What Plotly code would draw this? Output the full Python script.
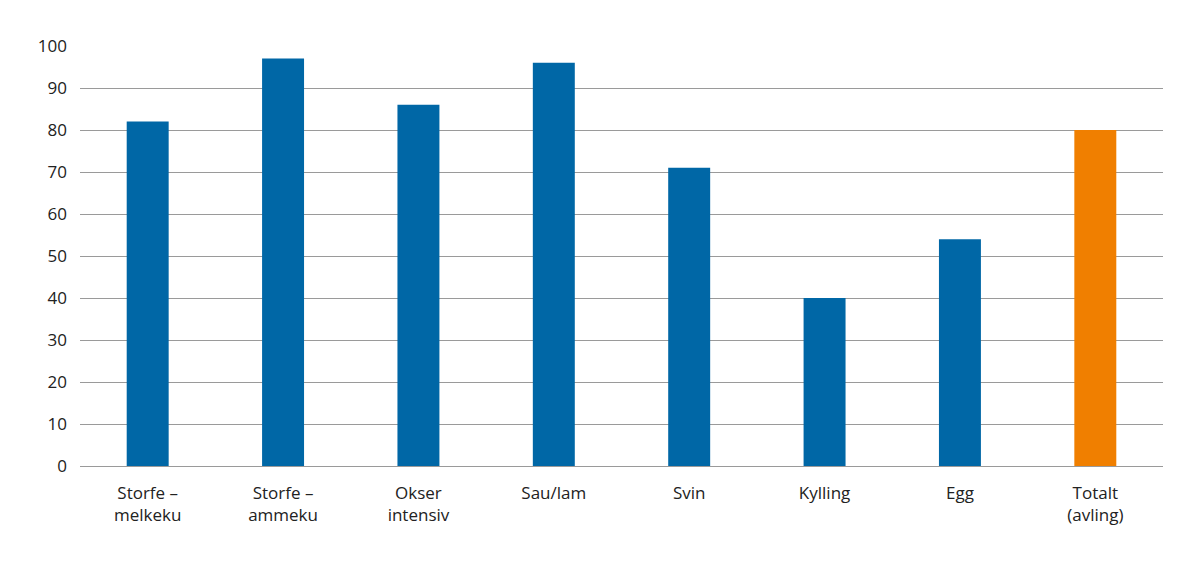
import plotly.graph_objects as go

categories = ["Storfe –<br>melkeku", "Storfe –<br>ammeku", "Okser<br>intensiv", "Sau/lam",
              "Svin", "Kylling", "Egg", "Totalt<br>(avling)"]
values = [82, 97, 86, 96, 71, 40, 54, 80]
colors = ["#0067a6"] * 7 + ["#f07f00"]
y_ticks = [0, 10, 20, 30, 40, 50, 60, 70, 80, 90, 100]

fig = go.Figure(go.Bar(x=categories, y=values, marker=dict(color=colors, line=dict(width=0)),
                       hoverinfo="x+y"))
fig.update_layout(
    width=1200, height=569,
    margin=dict(l=72, r=45, t=38, b=111),
    plot_bgcolor="white", paper_bgcolor="white",
    bargap=0.69,
    showlegend=False,
    font=dict(family="Open Sans", size=17, color="#222222"),
)
fig.update_yaxes(range=[0, 100], tickvals=y_ticks, showgrid=True, gridcolor="#9a9a9a",
                 gridwidth=1, zeroline=True, zerolinecolor="#9a9a9a", zerolinewidth=1,
                 showline=False, ticks="", ticklabelstandoff=12, tickfont=dict(size=17))
fig.update_xaxes(showline=False, ticks="", ticklabelstandoff=15, tickfont=dict(size=17))
fig.write_html("out.html")
